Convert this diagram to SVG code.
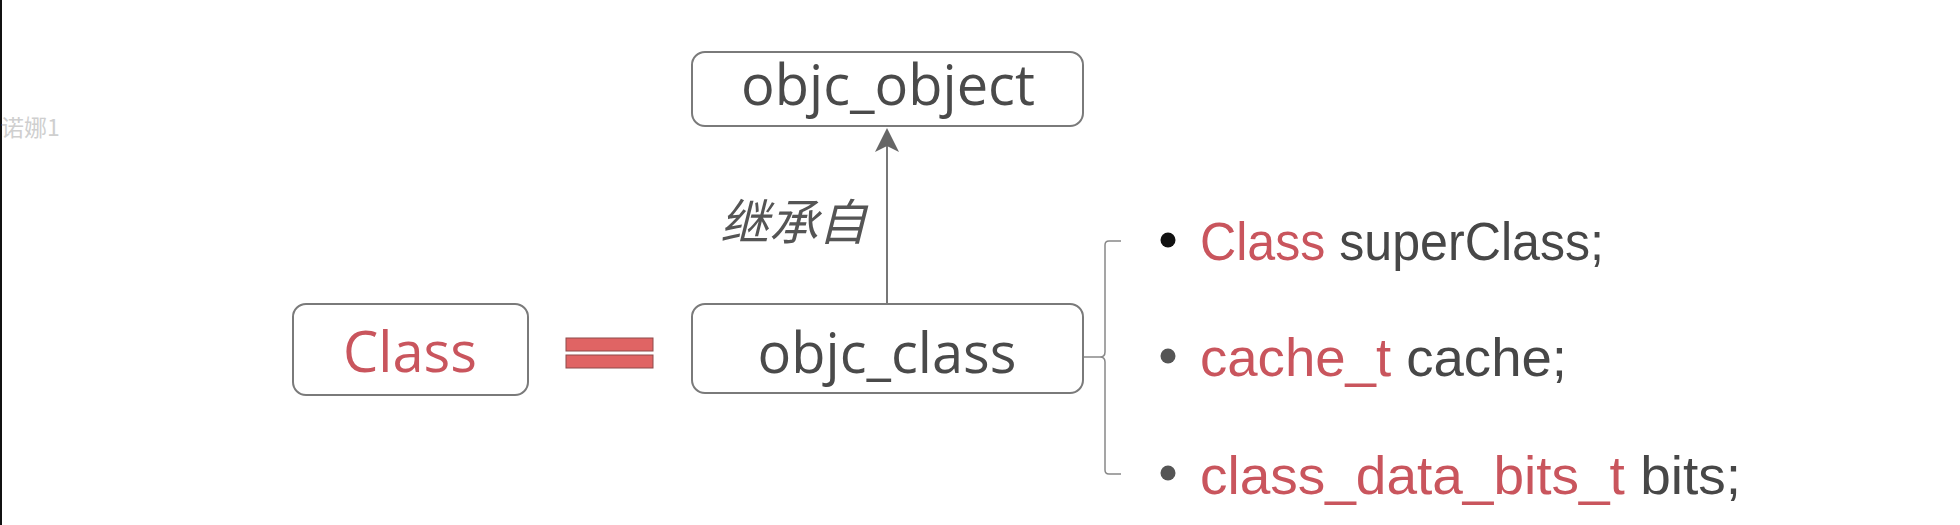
<svg xmlns="http://www.w3.org/2000/svg" width="1960" height="525" viewBox="0 0 1960 525">
<defs>
<style>
.box{fill:#fff;stroke:#7a7a7a;stroke-width:2}
.bt{font-family:"Open Sans","Noto Sans",sans-serif;font-size:56px;fill:#4a4a4a;text-anchor:middle}
.red{fill:#c9555d}
.dark{fill:#474747}
.li{font-family:"Liberation Sans",Arial,sans-serif;font-size:54px}
.con{stroke:#777;stroke-width:2;fill:none}
.bar{fill:#e06464;stroke:#8e4a4a;stroke-width:1}
</style>
</defs>
<rect width="1960" height="525" fill="#fff"/>
<rect x="0" y="0" width="2" height="525" fill="#111"/>
<text x="1" y="136" font-family="Noto Sans CJK SC,sans-serif" font-size="23" fill="#cfcfcf">诺娜1</text>

<g id="connectors">
<line class="con" x1="887" y1="304" x2="887" y2="140"/>
<path d="M887,128 L899,152 L887,146 L875,152 Z" fill="#666"/>
<line x1="1083" y1="357" x2="1100" y2="357" stroke="#888" stroke-width="1.5"/>
<path d="M1121,241 L1109,241 Q1105,241 1105,245 L1105,352 Q1105,357 1100,357 Q1105,357 1105,362 L1105,470 Q1105,474 1109,474 L1121,474" fill="none" stroke="#888" stroke-width="1.5"/>
<text x="720" y="240" font-family="Noto Sans CJK SC,sans-serif" font-size="49" font-style="italic" fill="#555">继承自</text>
</g>

<g id="node-objc_object">
<rect class="box" x="692" y="52" width="391" height="74" rx="13"/>
<text class="bt" x="888" y="105">objc_object</text>
</g>

<g id="node-objc_class">
<rect class="box" x="692" y="304" width="391" height="89" rx="13"/>
<text class="bt" x="887" y="373">objc_class</text>
</g>

<g id="node-Class">
<rect class="box" x="293" y="304" width="235" height="91" rx="13"/>
<text class="bt red" x="410" y="372">Class</text>
</g>

<g id="equals">
<rect class="bar" x="566" y="338" width="87" height="13"/>
<rect class="bar" x="566" y="355" width="87" height="13"/>
</g>

<g id="members">
<circle cx="1168" cy="240" r="7.5" fill="#111"/>
<text class="li" x="1200" y="260" textLength="404" lengthAdjust="spacingAndGlyphs"><tspan class="red">Class</tspan><tspan class="dark"> superClass;</tspan></text>
<circle cx="1168" cy="356" r="7.5" fill="#555"/>
<text class="li" x="1200" y="376" textLength="367" lengthAdjust="spacingAndGlyphs"><tspan class="red">cache_t</tspan><tspan class="dark"> cache;</tspan></text>
<circle cx="1168" cy="473" r="7.5" fill="#555"/>
<text class="li" x="1200" y="494" textLength="541" lengthAdjust="spacingAndGlyphs"><tspan class="red">class_data_bits_t</tspan><tspan class="dark"> bits;</tspan></text>
</g>
</svg>
